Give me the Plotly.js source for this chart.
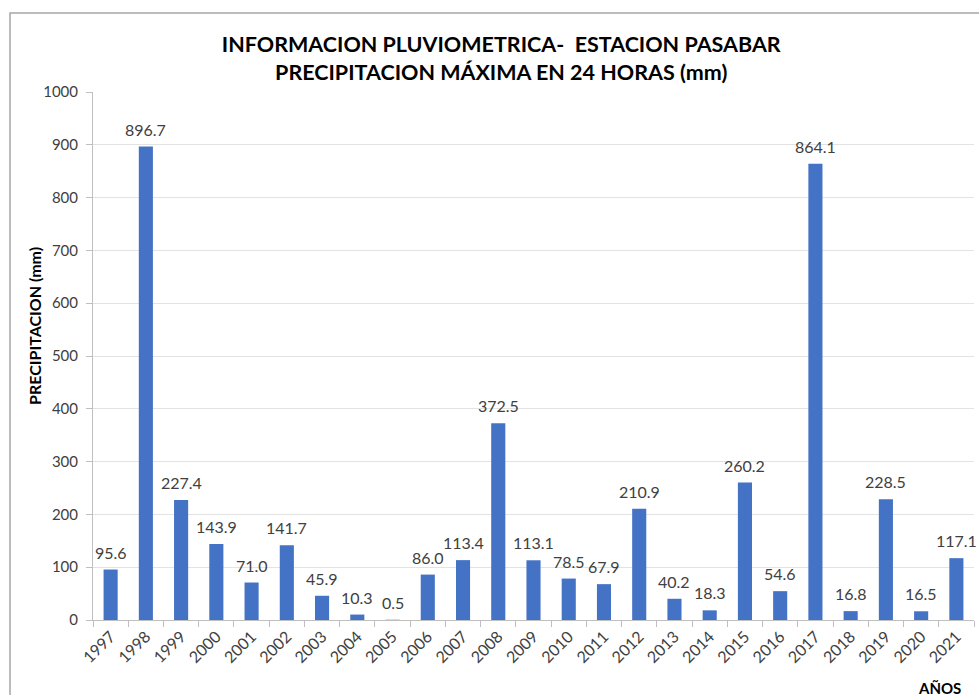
<!DOCTYPE html>
<html>
<head>
<meta charset="utf-8">
<script src="https://cdn.plot.ly/plotly-3.0.1.min.js"></script>
<style>html,body{margin:0;padding:0;background:#fff;}#chart{width:979px;height:695px;}</style>
</head>
<body>
<div id="chart"></div>
<script>
const years = ["1997","1998","1999","2000","2001","2002","2003","2004","2005","2006","2007","2008","2009","2010","2011","2012","2013","2014","2015","2016","2017","2018","2019","2020","2021"];
const precip = [95.6,896.7,227.4,143.9,71.0,141.7,45.9,10.3,0.5,86.0,113.4,372.5,113.1,78.5,67.9,210.9,40.2,18.3,260.2,54.6,864.1,16.8,228.5,16.5,117.1];
const yTicks = [0,100,200,300,400,500,600,700,800,900,1000];

const FONT = "Lato, 'Open Sans', sans-serif";

const trace = {
  type: "bar",
  x: years,
  y: precip,
  marker: {color: "#4472C4"},
  hoverinfo: "x+y"
};

// category axis: annotation x given as category index
const labels = years.map((yr, i) => ({
  x: i, y: precip[i], xref: "x", yref: "y",
  text: precip[i].toFixed(1), showarrow: false,
  yanchor: "bottom", yshift: 6,
  font: {family: FONT, size: 16, color: "#404040"}
}));

const layout = {
  width: 979, height: 695,
  margin: {l: 93, r: 5, t: 92, b: 75},
  paper_bgcolor: "#fff", plot_bgcolor: "#fff",
  bargap: 0.6,
  showlegend: false,
  title: {
    text: "<b>INFORMACION PLUVIOMETRICA-  ESTACION PASABAR<br>PRECIPITACION MÁXIMA EN 24 HORAS (mm)</b>",
    font: {family: FONT, size: 21.5, color: "#000"},
    x: 0.512, xanchor: "center", y: 0.925, yanchor: "middle"
  },
  xaxis: {
    type: "category",
    range: [-0.5, years.length - 0.5],
    autorange: false,
    tickangle: -45,
    tickson: "boundaries",
    ticks: "outside", ticklen: 6, tickcolor: "#bfbfbf",
    showline: true, linecolor: "#bfbfbf", linewidth: 1,
    showgrid: false,
    tickfont: {family: FONT, size: 16, color: "#404040"}
  },
  yaxis: {
    range: [0, 1000],
    autorange: false,
    tickvals: yTicks,
    ticks: "outside", ticklen: 6, tickcolor: "#bfbfbf",
    ticklabelstandoff: 5,
    showline: true, linecolor: "#bfbfbf", linewidth: 1,
    showgrid: true, gridcolor: "#e3e3e3",
    zeroline: false,
    tickfont: {family: FONT, size: 15, color: "#404040"}
  },
  annotations: labels.concat([{
    text: "<b>PRECIPITACION (mm)</b>", xref: "paper", yref: "paper",
    x: -0.0658, y: 0.557, textangle: -90, showarrow: false,
    xanchor: "center", yanchor: "middle",
    font: {family: FONT, size: 16, color: "#000"}
  }, {
    text: "<b>AÑOS</b>", xref: "paper", yref: "paper",
    x: 0.961, y: -0.129, showarrow: false, xanchor: "center", yanchor: "middle",
    font: {family: FONT, size: 15, color: "#000"}
  }]),
  shapes: [{
    type: "rect", xref: "paper", yref: "paper",
    x0: -0.0942, x1: 1.2, y0: -0.3, y1: 1.1496,
    line: {color: "#a6a6a6", width: 1.5}, layer: "below"
  }]
};

Plotly.newPlot("chart", [trace], layout, {displayModeBar: false, staticPlot: true});
</script>
</body>
</html>
